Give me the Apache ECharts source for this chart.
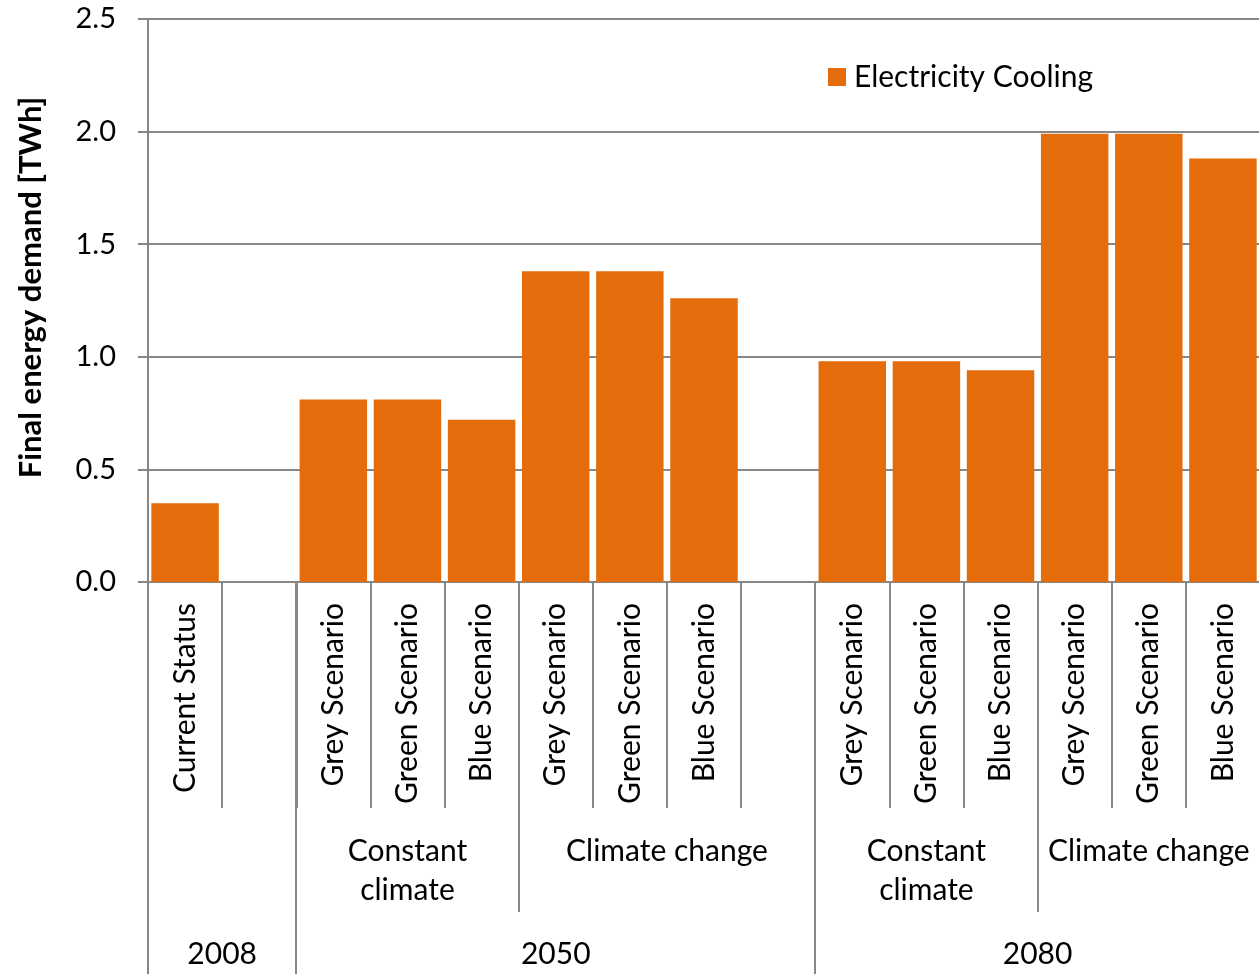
<!DOCTYPE html>
<html>
<head>
<meta charset="utf-8">
<title>Final energy demand – Electricity Cooling</title>
<script src="https://cdn.jsdelivr.net/npm/echarts@6/dist/echarts.min.js"></script>
<style>
  html, body { margin: 0; padding: 0; background: #fff; }
  #chart { width: 1259px; height: 974px; }
</style>
</head>
<body>
<div id="chart"></div>
<script>
// Scenario categories (blank slots separate the time periods)
const categories = [
  'Current Status', '',
  'Grey Scenario', 'Green Scenario', 'Blue Scenario',
  'Grey Scenario', 'Green Scenario', 'Blue Scenario', '',
  'Grey Scenario', 'Green Scenario', 'Blue Scenario',
  'Grey Scenario', 'Green Scenario', 'Blue Scenario'
];
// Electricity for cooling, TWh
const coolingValues = [0.35, null, 0.81, 0.81, 0.72, 1.38, 1.38, 1.26, null, 0.98, 0.98, 0.94, 1.99, 1.99, 1.88];
// Second level of the category axis: climate assumption (index ranges into categories)
const climateLabels = ['', 'Constant\nclimate', 'Climate change', 'Constant\nclimate', 'Climate change'];
const climateStart = [0, 2, 5, 9, 12];
const climateEnd = [1, 4, 8, 11, 14];
// Third level: year
const yearLabels = ['2008', '2050', '2080'];
const yearStart = [0, 2, 9];
const yearEnd = [1, 8, 14];
// Value axis ticks
const yMin = 0, yMax = 2.5, yStep = 0.5;

const FONT = 'Lato, "Open Sans", sans-serif';
const LINE = '#878787';
const ORANGE = '#E46C0A';

const chart = echarts.init(document.getElementById('chart'), null, { renderer: 'canvas' });

const option = {
  animation: false,
  textStyle: { fontFamily: FONT, color: '#000' },
  grid: { left: 148, top: 19, width: 1112, height: 563, containLabel: false, outerBoundsMode: 'none' },
  legend: {
    left: 828, top: 62, padding: 0,
    icon: 'rect', itemWidth: 18, itemHeight: 18,
    textStyle: { fontFamily: FONT, fontSize: 30, color: '#000', padding: [0, 0, 0, 3] },
    data: ['Electricity Cooling']
  },
  xAxis: {
    type: 'category',
    data: categories,
    boundaryGap: true,
    axisLine: { lineStyle: { color: LINE, width: 2 } },
    axisTick: { show: true, interval: 0, length: 226, lineStyle: { color: LINE, width: 2 } },
    axisLabel: {
      interval: 0, rotate: 90, margin: 21,
      fontFamily: FONT, fontSize: 30, color: '#000'
    },
    splitLine: { show: false }
  },
  yAxis: {
    type: 'value',
    min: yMin, max: yMax, interval: yStep,
    name: 'Final energy demand [TWh]',
    nameLocation: 'middle', nameRotate: 90, nameGap: 102,
    nameTextStyle: { fontFamily: FONT, fontSize: 31, fontWeight: 'bold', color: '#000',
      padding: [0, 0, 0, 26] },
    axisLine: { show: true, lineStyle: { color: LINE, width: 2 } },
    axisTick: { show: true, length: 10, lineStyle: { color: LINE, width: 2 } },
    axisLabel: {
      margin: 32, fontFamily: FONT, fontSize: 29, color: '#000',
      formatter: v => v.toFixed(1)
    },
    splitLine: { show: true, lineStyle: { color: LINE, width: 2 } }
  },
  series: [{
    name: 'Electricity Cooling',
    type: 'bar',
    data: coolingValues,
    barCategoryGap: '9%',
    itemStyle: { color: ORANGE }
  }]
};

chart.setOption(option);

// Multi-level category axis: separators and group labels placed via the axis scale
function drawAxisLevels() {
  const cx = i => chart.convertToPixel({ xAxisIndex: 0 }, i);
  const band = cx(1) - cx(0);
  const leftOf = i => cx(i) - band / 2;
  const rightOf = i => cx(i) + band / 2;
  const y0 = chart.convertToPixel({ yAxisIndex: 0 }, 0);
  const level2Bottom = 912;
  const level3Bottom = chart.getHeight();
  const graphics = [];

  // separators between climate groups (not at year boundaries)
  climateStart.forEach(s => {
    if (yearStart.indexOf(s) >= 0) return;
    const x = Math.round(leftOf(s));
    graphics.push({ type: 'line', silent: true,
      shape: { x1: x, y1: y0, x2: x, y2: level2Bottom },
      style: { stroke: LINE, lineWidth: 2 } });
  });
  // separators between years
  yearStart.forEach(s => {
    const x = Math.round(leftOf(s));
    graphics.push({ type: 'line', silent: true,
      shape: { x1: x, y1: y0, x2: x, y2: level3Bottom },
      style: { stroke: LINE, lineWidth: 2 } });
  });
  // climate group labels (first line centred at y = 851)
  climateLabels.forEach((lab, k) => {
    if (!lab) return;
    const xc = (leftOf(climateStart[k]) + rightOf(climateEnd[k])) / 2;
    graphics.push({ type: 'text', silent: true, x: xc, y: 832,
      style: { text: lab, fontFamily: FONT, fontSize: 30, fill: '#000',
        align: 'center', verticalAlign: 'top', lineHeight: 39 } });
  });
  // year labels
  yearLabels.forEach((lab, k) => {
    const xc = (leftOf(yearStart[k]) + rightOf(yearEnd[k])) / 2;
    graphics.push({ type: 'text', silent: true, x: xc, y: 954,
      style: { text: lab, fontFamily: FONT, fontSize: 30, fill: '#000',
        align: 'center', verticalAlign: 'middle' } });
  });

  chart.setOption({ graphic: graphics });
}
drawAxisLevels();
</script>
</body>
</html>
